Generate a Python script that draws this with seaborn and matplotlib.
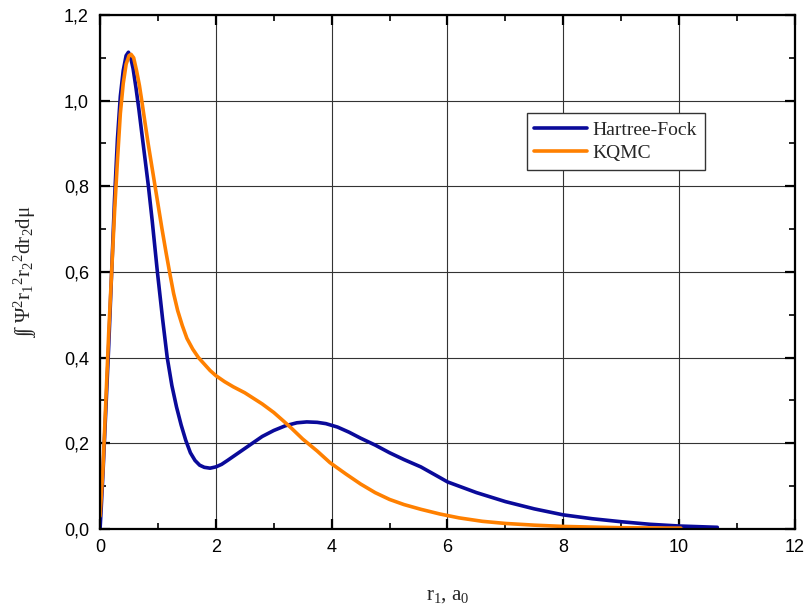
import matplotlib
matplotlib.use("Agg")
import matplotlib.pyplot as plt
from matplotlib.ticker import MultipleLocator, FuncFormatter
import seaborn as sns
import pandas as pd

# Hartree-Fock curve
hf_r = [0.0, 0.02, 0.05, 0.1, 0.15, 0.2, 0.25, 0.3, 0.35, 0.4, 0.45, 0.49, 0.53,
        0.57, 0.62, 0.67, 0.72, 0.78, 0.835, 0.9, 0.99, 1.08, 1.16, 1.24, 1.32,
        1.4, 1.48, 1.56, 1.64, 1.72, 1.8, 1.9, 2.0, 2.1, 2.2, 2.35, 2.5, 2.65,
        2.8, 3.0, 3.2, 3.4, 3.57, 3.75, 3.9, 4.1, 4.3, 4.5, 4.75, 5.0, 5.25,
        5.54, 5.87, 6.0, 6.5, 7.0, 7.5, 8.0, 8.5, 9.0, 9.5, 10.0, 10.66]
hf_v = [0.0, 0.05, 0.13, 0.28, 0.43, 0.6, 0.77, 0.91, 1.01, 1.07, 1.105, 1.113, 1.10,
        1.075, 1.03, 0.98, 0.925, 0.86, 0.8, 0.72, 0.6, 0.49, 0.4, 0.335, 0.285,
        0.243, 0.207, 0.178, 0.16, 0.149, 0.144, 0.142, 0.145, 0.151, 0.16, 0.174,
        0.188, 0.202, 0.216, 0.23, 0.241, 0.248, 0.25, 0.249, 0.246, 0.238, 0.226,
        0.212, 0.196, 0.178, 0.162, 0.145, 0.12, 0.11, 0.085, 0.064, 0.047, 0.033,
        0.024, 0.017, 0.011, 0.007, 0.004]

# KQMC curve
qmc_r = [0.0, 0.05, 0.1, 0.15, 0.2, 0.25, 0.3, 0.35, 0.4, 0.45, 0.5, 0.535, 0.58,
         0.63, 0.68, 0.72, 0.78, 0.83, 0.89, 0.95, 1.01, 1.07, 1.14, 1.2, 1.27,
         1.34, 1.42, 1.5, 1.6, 1.7, 1.8, 1.9, 2.0, 2.15, 2.3, 2.5, 2.65, 2.8, 3.0,
         3.16, 3.3, 3.5, 3.75, 3.97, 4.25, 4.5, 4.75, 5.0, 5.25, 5.54, 5.87, 6.2,
         6.6, 7.0, 7.5, 8.0, 9.0, 10.03]
qmc_v = [0.03, 0.14, 0.3, 0.46, 0.6, 0.74, 0.86, 0.97, 1.04, 1.085, 1.105, 1.108,
         1.10, 1.07, 1.035, 1.0, 0.945, 0.9, 0.85, 0.8, 0.75, 0.7, 0.645, 0.6, 0.55,
         0.51, 0.475, 0.445, 0.42, 0.40, 0.385, 0.37, 0.358, 0.344, 0.332, 0.318,
         0.305, 0.292, 0.272, 0.253, 0.236, 0.21, 0.182, 0.155, 0.128, 0.105, 0.085,
         0.069, 0.057, 0.046, 0.035, 0.026, 0.018, 0.013, 0.009, 0.006, 0.003, 0.002]

series_names = ["Hartree-Fock", "KQMC"]
x_ticks = [0, 2, 4, 6, 8, 10, 12]
y_ticks = [0.0, 0.2, 0.4, 0.6, 0.8, 1.0, 1.2]

df = pd.concat([
    pd.DataFrame({"r": hf_r, "v": hf_v, "series": series_names[0]}),
    pd.DataFrame({"r": qmc_r, "v": qmc_v, "series": series_names[1]}),
], ignore_index=True)

sns.set_style("white")
plt.rcParams["font.family"] = ["Liberation Sans", "DejaVu Sans"]
plt.rcParams["mathtext.fontset"] = "custom"
plt.rcParams["mathtext.rm"] = "Liberation Serif"
plt.rcParams["mathtext.it"] = "Liberation Serif"
plt.rcParams["mathtext.bf"] = "Liberation Serif"

fig = plt.figure(figsize=(8.07, 6.12), dpi=100)
ax = fig.add_axes([0.124, 0.1356, 0.861, 0.840])

palette = {"Hartree-Fock": "#0a0a9a", "KQMC": "#ff8000"}
sns.lineplot(data=df, x="r", y="v", hue="series", palette=palette,
             sort=False, estimator=None, linewidth=2.6, ax=ax)

ax.set_xlim(0, 12)
ax.set_ylim(0, 1.2)
ax.set_xticks(x_ticks)
ax.set_yticks(y_ticks)
ax.xaxis.set_minor_locator(MultipleLocator(1))
ax.yaxis.set_minor_locator(MultipleLocator(0.1))
ax.yaxis.set_major_formatter(FuncFormatter(lambda v, p: f"{v:.1f}".replace(".", ",")))
ax.xaxis.set_major_formatter(FuncFormatter(lambda v, p: f"{v:g}"))

ax.grid(True, which="major", color="#333333", linewidth=0.8)
ax.set_axisbelow(True)
for s in ax.spines.values():
    s.set_color("black")
    s.set_linewidth(1.6)
    s.set_visible(True)
ax.tick_params(which="both", direction="in", top=True, right=True,
               bottom=True, left=True, colors="black", labelsize=13)
ax.tick_params(which="major", length=7, width=1.6)
ax.tick_params(axis="x", which="major", pad=7)
ax.tick_params(axis="y", which="major", pad=8)
ax.tick_params(which="minor", length=4, width=1.2)

ax.set_xlabel("r$_1$, a$_0$", fontsize=15, family="Liberation Serif", labelpad=22)
ax.set_ylabel(r"$\mathrm{\int\!\int\ \Psi^2 r_1{}^2 r_2{}^2 dr_2 d\mu}$",
              fontsize=15, labelpad=18)

leg = ax.legend(loc="upper left", bbox_to_anchor=(0.614, 0.809),
                prop={"family": "Liberation Serif", "size": 14},
                frameon=True, fancybox=False, framealpha=1, edgecolor="#333333",
                handlelength=2.7, handletextpad=0.3, borderpad=0.4,
                labelspacing=0.3, borderaxespad=0)
leg.get_frame().set_linewidth(1.0)
for h in leg.get_lines():
    h.set_linewidth(2.6)

fig.savefig("out.png", dpi=100)
